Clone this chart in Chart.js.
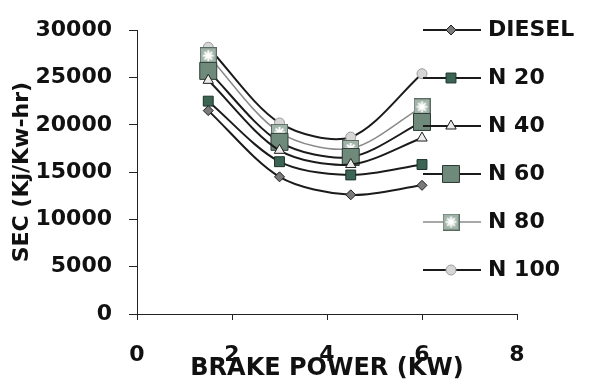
<!DOCTYPE html>
<html>
<head>
<meta charset="utf-8">
<title>SEC vs Brake Power</title>
<script src="https://cdn.jsdelivr.net/npm/chart.js@4.4.0/dist/chart.umd.min.js"></script>
<style>
  html, body { margin: 0; padding: 0; background: #fff; }
  #wrap { width: 598px; height: 388px; }
</style>
</head>
<body>
<div id="wrap"><canvas id="secChart" width="598" height="388"></canvas></div>
<script>
// Brake power (kW) at each load step
const brakePower = [1.5, 3, 4.5, 6];

// Specific energy consumption (kJ/kW-hr) for each fuel blend
const diesel = [21500, 14500, 12600, 13600];
const n20 = [22500, 16100, 14700, 15800];
const n40 = [24700, 17300, 15800, 18600];
const n60 = [25700, 18200, 16600, 20300];
const n80 = [27300, 19200, 17500, 21900];
const n100 = [28200, 20200, 18700, 25400];

const seriesLabels = ['DIESEL', 'N 20', 'N 40', 'N 60', 'N 80', 'N 100'];
const xTicks = [0, 2, 4, 6, 8];
const yTicks = [0, 5000, 10000, 15000, 20000, 25000, 30000];

const FONT = '"DejaVu Sans", sans-serif';

// light square with a white asterisk, used as the N 80 marker
function starSquare(size) {
    const c = document.createElement('canvas');
    c.width = size;
    c.height = size;
    const g = c.getContext('2d');
    g.fillStyle = '#a2b4a9';
    g.fillRect(0, 0, size, size);
    g.strokeStyle = '#ffffff';
    g.lineWidth = 2;
    const m = size / 2, r = size * 0.32;
    g.beginPath();
    for (let k = 0; k < 4; k++) {
        const t = k * Math.PI / 4;
        g.moveTo(m - r * Math.cos(t), m - r * Math.sin(t));
        g.lineTo(m + r * Math.cos(t), m + r * Math.sin(t));
    }
    g.stroke();
    g.strokeStyle = '#5a6b61';
    g.lineWidth = 1;
    g.strokeRect(0.5, 0.5, size - 1, size - 1);
    return c;
}

function points(values) {
    return values.map((v, i) => ({ x: brakePower[i], y: v }));
}

const styles = [
    { line: '#1b1b1b', width: 2, shape: 'rectRot', radius: 5, fill: '#7a7a7a', border: '#1e1e1e' },
    { line: '#1b1b1b', width: 2, shape: 'rect', radius: 7, fill: '#3c6454', border: '#1d3329' },
    { line: '#1b1b1b', width: 2, shape: 'triangle', radius: 6, fill: '#ececec', border: '#1e1e1e' },
    { line: '#1b1b1b', width: 2, shape: 'rect', radius: 12, fill: '#6f8a7b', border: '#2d3b34' },
    { line: '#8a8a8a', width: 1.5, shape: starSquare(17), radius: 9, fill: '#a2b4a9', border: '#5a6b61' },
    { line: '#1b1b1b', width: 2, shape: 'circle', radius: 5, fill: '#d6d6d6', border: '#9c9c9c' }
];

const allSeries = [diesel, n20, n40, n60, n80, n100];

const datasets = allSeries.map((vals, i) => ({
    label: seriesLabels[i],
    data: points(vals),
    borderColor: styles[i].line,
    borderWidth: styles[i].width,
    tension: 0.3,
    pointStyle: styles[i].shape,
    pointRadius: styles[i].radius,
    pointBackgroundColor: styles[i].fill,
    pointBorderColor: styles[i].border,
    pointBorderWidth: 1
}));

// legend column drawn over the right side of the plot
const sideLegend = {
    id: 'sideLegend',
    afterDatasetsDraw(chart) {
        const ctx = chart.ctx;
        ctx.save();
        chart.data.datasets.forEach((ds, i) => {
            const y = 30 + i * 48;
            ctx.strokeStyle = ds.borderColor;
            ctx.lineWidth = ds.borderWidth;
            ctx.beginPath();
            ctx.moveTo(423, y);
            ctx.lineTo(481, y);
            ctx.stroke();
            ctx.fillStyle = ds.pointBackgroundColor;
            ctx.strokeStyle = ds.pointBorderColor;
            ctx.lineWidth = 1;
            Chart.helpers.drawPoint(ctx, {
                pointStyle: ds.pointStyle,
                radius: ds.pointRadius,
                rotation: 0,
                borderWidth: 1
            }, 451, y);
            ctx.fillStyle = '#111';
            ctx.font = 'bold 22px ' + FONT;
            ctx.textAlign = 'left';
            ctx.textBaseline = 'middle';
            ctx.fillText(ds.label, 488, y);
        });
        ctx.restore();
    }
};

const ctx = document.getElementById('secChart').getContext('2d');

const secChart = new Chart(ctx, {
    type: 'line',
    data: { datasets: datasets },
    plugins: [sideLegend],
    options: {
        responsive: false,
        animation: false,
        devicePixelRatio: 1,
        layout: { padding: { top: 20, right: 81, left: 0, bottom: 0 } },
        plugins: {
            legend: { display: false },
            tooltip: { enabled: false }
        },
        scales: {
            x: {
                type: 'linear',
                min: 0,
                max: 8,
                afterBuildTicks: (s) => { s.ticks = xTicks.map(v => ({ value: v })); },
                afterFit: (s) => { s.height = 74; },
                border: { display: true, color: '#222', width: 1 },
                grid: { display: true, drawOnChartArea: false, drawTicks: true, tickLength: 6, color: '#222' },
                ticks: {
                    color: '#111',
                    font: { family: FONT, weight: 'bold', size: 22 },
                    padding: 22,
                    callback: (v) => String(v)
                },
                title: {
                    display: true,
                    text: 'BRAKE POWER (KW)',
                    color: '#111',
                    font: { family: FONT, weight: 'bold', size: 24 },
                    padding: { top: 0, bottom: 5 }
                }
            },
            y: {
                min: 0,
                max: 30000,
                afterBuildTicks: (s) => { s.ticks = yTicks.map(v => ({ value: v })); },
                afterFit: (s) => { s.width = 137; },
                border: { display: true, color: '#222', width: 1 },
                grid: { display: true, drawOnChartArea: false, drawTicks: true, tickLength: 8, color: '#222' },
                ticks: {
                    color: '#111',
                    font: { family: FONT, weight: 'bold', size: 22 },
                    padding: 17,
                    callback: (v) => String(v)
                },
                title: {
                    display: true,
                    text: 'SEC (Kj/Kw-hr)',
                    color: '#111',
                    font: { family: FONT, weight: 'bold', size: 22 },
                    padding: { top: 9, bottom: 0 }
                }
            }
        }
    }
});
</script>
</body>
</html>
